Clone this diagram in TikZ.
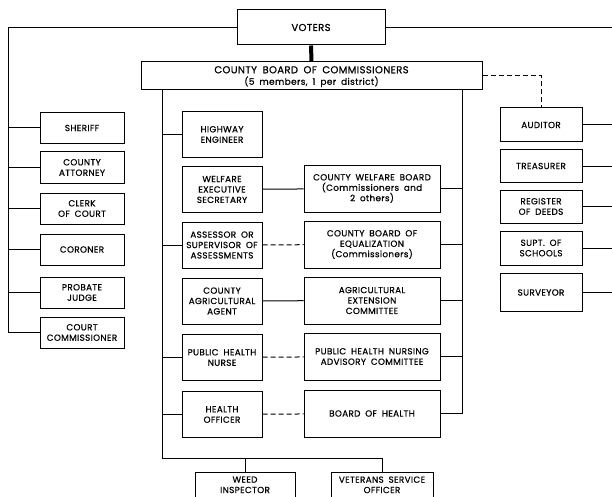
\documentclass[tikz,border=0pt]{standalone}
\usepackage{fontspec}
\setmainfont{Poppins}
\newfontfamily\chartfont{Poppins}[LetterSpace=4,WordSpace=1.8,FakeBold=0.7]
\usetikzlibrary{arrows.meta}

\begin{document}
\begin{tikzpicture}[x=1pt,y=-1pt,line width=1pt,
    office/.style={draw, align=center, inner sep=1pt, font=\chartfont\fontsize{8.8}{10.4}\selectfont},
    sidebox/.style={office, minimum width=84, minimum height=31},
    agentbox/.style={office, minimum width=80, minimum height=46},
    boardbox/.style={office, minimum width=136, minimum height=47},
    rightbox/.style={office, minimum width=82, minimum height=33},
    lowbox/.style={office, anchor=north, inner ysep=4pt},
    advisory/.style={dash pattern=on 5pt off 3pt}]
    \useasboundingbox (0,0) rectangle (612,497);
    \node[office, minimum width=148, minimum height=35, font=\chartfont\fontsize{10}{11}\selectfont] (voters) at (311,27.5) {VOTERS};
    \node[office, minimum width=341, minimum height=28, font=\chartfont\fontsize{10}{11.5}\selectfont, text depth=1pt] (board) at (311.5,76) {COUNTY BOARD OF COMMISSIONERS\\{\fontsize{9}{11.5}\selectfont (5 members, 1 per district)}};
    \node[sidebox] (sheriff) at (82,128) {SHERIFF};
    \node[sidebox] (attorney) at (82,167.5) {COUNTY\\ATTORNEY};
    \node[sidebox] (clerk) at (82,208.5) {CLERK\\OF COURT};
    \node[sidebox] (coroner) at (82,249.5) {CORONER};
    \node[sidebox] (probate) at (82,292.5) {PROBATE\\JUDGE};
    \node[sidebox] (court) at (82,332.5) {COURT\\COMMISSIONER};
    \node[agentbox] (highway) at (222,134.5) {HIGHWAY\\ENGINEER};
    \node[agentbox] (welfare) at (222,189.5) {WELFARE\\EXECUTIVE\\SECRETARY};
    \node[agentbox] (assessor) at (222,245) {ASSESSOR OR\\SUPERVISOR OF\\ASSESSMENTS};
    \node[agentbox] (agent) at (222,301) {COUNTY\\AGRICULTURAL\\AGENT};
    \node[agentbox] (nurse) at (222,357.5) {PUBLIC HEALTH\\NURSE};
    \node[agentbox] (officer) at (222,414.5) {HEALTH\\OFFICER};
    \node[boardbox] (welfareboard) at (372,188.5) {COUNTY WELFARE BOARD\\(Commissioners and\\2 others)};
    \node[boardbox] (equal) at (372,244.5) {COUNTY BOARD OF\\EQUALIZATION\\(Commissioners)};
    \node[boardbox] (extension) at (372,300.5) {AGRICULTURAL\\EXTENSION\\COMMITTEE};
    \node[boardbox] (nursing) at (372,356.5) {PUBLIC HEALTH NURSING\\ADVISORY COMMITTEE};
    \node[boardbox] (health) at (372,413.5) {BOARD OF HEALTH};
    \node[rightbox, minimum height=34] (auditor) at (541,125) {AUDITOR};
    \node[rightbox, minimum height=32] (treasurer) at (541,166) {TREASURER};
    \node[rightbox] (register) at (541,206.5) {REGISTER\\OF DEEDS};
    \node[rightbox, minimum height=34] (supt) at (541,248) {SUPT. OF\\SCHOOLS};
    \node[rightbox, minimum height=38] (surveyor) at (541,292.5) {SURVEYOR};
    \node[lowbox, minimum width=100] (weed) at (245,472) {WEED\\INSPECTOR};
    \node[lowbox, minimum width=102] (veterans) at (382,472) {VETERANS SERVICE\\OFFICER};
    \coordinate (lbus) at (8,0);
    \coordinate (rbus) at (612,0);
    \coordinate (mlbus) at (162,0);
    \coordinate (mrbus) at (462,0);
    \coordinate (lowbus) at (162,458);
    \draw (voters.west) -| (lbus |- court.west) -- (court.west);
    \foreach \n in {sheriff,attorney,clerk,coroner,probate}
        \draw (\n.west) -- (lbus |- \n.west);
    \draw (voters.east) -- (rbus |- voters.east);
    \foreach \n in {auditor,treasurer,register,supt,surveyor}
        \draw (\n.east) -- (rbus |- \n.east);
    \draw[line width=4pt] (voters.south) -- (board.north);
    \draw[advisory] (board.east) -| (auditor.north);
    \draw (mlbus |- board.south) -- (lowbus) -| (veterans.north);
    \draw (weed.north) -- (weed.north |- lowbus);
    \foreach \n in {highway,assessor,nurse,officer}
        \draw (\n.west) -- (mlbus |- \n.west);
    \draw (mrbus |- board.south) -- (mrbus |- health.east) -- (health.east);
    \foreach \n in {welfareboard,equal,extension,nursing}
        \draw (\n.east) -- (mrbus |- \n.east);
    \draw (welfare) -- (welfareboard);
    \draw (agent) -- (extension);
    \draw[advisory] (assessor) -- (equal);
    \draw[advisory] (nurse) -- (nursing);
    \draw[advisory] (officer) -- (health);
\end{tikzpicture}
\end{document}
